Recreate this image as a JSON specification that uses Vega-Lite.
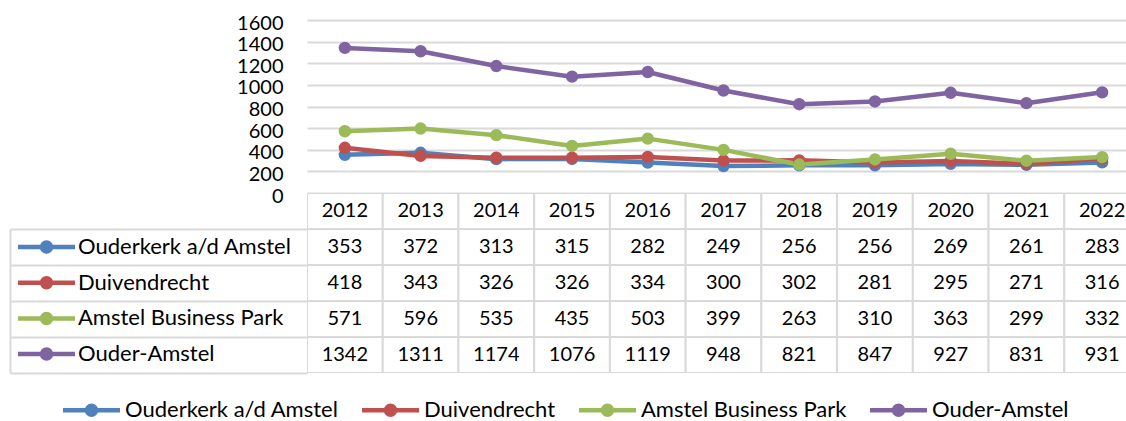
{
  "$schema": "https://vega.github.io/schema/vega-lite/v6.json",
  "padding": {"left": 9, "top": 13, "right": 0, "bottom": 0},
  "bounds": "flush",
  "spacing": 0,
  "background": "white",
  "config": {
    "view": {"stroke": null},
    "font": "Lato",
    "axis": {"labelFont": "Lato", "labelFontSize": 20, "labelColor": "#000000"},
    "text": {"font": "Lato", "fontSize": 20, "color": "#000000"}
  },
  "datasets": {
    "years": [
      {"year": 2012}, {"year": 2013}, {"year": 2014}, {"year": 2015}, {"year": 2016}, {"year": 2017},
      {"year": 2018}, {"year": 2019}, {"year": 2020}, {"year": 2021}, {"year": 2022}
    ],
    "d": [
      {"series": "Ouderkerk a/d Amstel", "year": 2012, "value": 353},
      {"series": "Ouderkerk a/d Amstel", "year": 2013, "value": 372},
      {"series": "Ouderkerk a/d Amstel", "year": 2014, "value": 313},
      {"series": "Ouderkerk a/d Amstel", "year": 2015, "value": 315},
      {"series": "Ouderkerk a/d Amstel", "year": 2016, "value": 282},
      {"series": "Ouderkerk a/d Amstel", "year": 2017, "value": 249},
      {"series": "Ouderkerk a/d Amstel", "year": 2018, "value": 256},
      {"series": "Ouderkerk a/d Amstel", "year": 2019, "value": 256},
      {"series": "Ouderkerk a/d Amstel", "year": 2020, "value": 269},
      {"series": "Ouderkerk a/d Amstel", "year": 2021, "value": 261},
      {"series": "Ouderkerk a/d Amstel", "year": 2022, "value": 283},
      {"series": "Duivendrecht", "year": 2012, "value": 418},
      {"series": "Duivendrecht", "year": 2013, "value": 343},
      {"series": "Duivendrecht", "year": 2014, "value": 326},
      {"series": "Duivendrecht", "year": 2015, "value": 326},
      {"series": "Duivendrecht", "year": 2016, "value": 334},
      {"series": "Duivendrecht", "year": 2017, "value": 300},
      {"series": "Duivendrecht", "year": 2018, "value": 302},
      {"series": "Duivendrecht", "year": 2019, "value": 281},
      {"series": "Duivendrecht", "year": 2020, "value": 295},
      {"series": "Duivendrecht", "year": 2021, "value": 271},
      {"series": "Duivendrecht", "year": 2022, "value": 316},
      {"series": "Amstel Business Park", "year": 2012, "value": 571},
      {"series": "Amstel Business Park", "year": 2013, "value": 596},
      {"series": "Amstel Business Park", "year": 2014, "value": 535},
      {"series": "Amstel Business Park", "year": 2015, "value": 435},
      {"series": "Amstel Business Park", "year": 2016, "value": 503},
      {"series": "Amstel Business Park", "year": 2017, "value": 399},
      {"series": "Amstel Business Park", "year": 2018, "value": 263},
      {"series": "Amstel Business Park", "year": 2019, "value": 310},
      {"series": "Amstel Business Park", "year": 2020, "value": 363},
      {"series": "Amstel Business Park", "year": 2021, "value": 299},
      {"series": "Amstel Business Park", "year": 2022, "value": 332},
      {"series": "Ouder-Amstel", "year": 2012, "value": 1342},
      {"series": "Ouder-Amstel", "year": 2013, "value": 1311},
      {"series": "Ouder-Amstel", "year": 2014, "value": 1174},
      {"series": "Ouder-Amstel", "year": 2015, "value": 1076},
      {"series": "Ouder-Amstel", "year": 2016, "value": 1119},
      {"series": "Ouder-Amstel", "year": 2017, "value": 948},
      {"series": "Ouder-Amstel", "year": 2018, "value": 821},
      {"series": "Ouder-Amstel", "year": 2019, "value": 847},
      {"series": "Ouder-Amstel", "year": 2020, "value": 927},
      {"series": "Ouder-Amstel", "year": 2021, "value": 831},
      {"series": "Ouder-Amstel", "year": 2022, "value": 931}
    ]
  },
  "vconcat": [
    {
      "width": 819,
      "height": 173,
      "data": {"name": "d"},
      "mark": {"type": "line", "strokeWidth": 4.5, "strokeJoin": "round", "strokeCap": "round", "point": {"filled": true, "size": 154, "opacity": 1}},
      "encoding": {
        "x": {"field": "year", "type": "ordinal", "scale": {"type": "point", "padding": 0.5, "range": [0, 833]}, "axis": null},
        "y": {
          "field": "value", "type": "quantitative",
          "scale": {"domain": [0, 1600], "nice": false, "zero": true},
          "axis": {"values": [0, 200, 400, 600, 800, 1000, 1200, 1400, 1600], "format": "d", "title": null, "domain": false, "ticks": false, "grid": true, "gridColor": "#d9d9d9", "gridWidth": 2, "labelPadding": 24, "labelOffset": 3, "labelAlign": "right", "labelBaseline": "middle"}
        },
        "color": {
          "field": "series", "type": "nominal",
          "scale": {"domain": ["Ouderkerk a/d Amstel", "Duivendrecht", "Amstel Business Park", "Ouder-Amstel"], "range": ["#4f81bd", "#c0504d", "#9bbb59", "#8064a2"]},
          "legend": {
            "orient": "none", "legendX": -245, "legendY": 379, "direction": "horizontal", "title": null,
            "symbolType": "M-2,0H9.4M4.6,0A0.9,0.9,0,1,1,2.8,0A0.9,0.9,0,1,1,4.6,0M4.1,0A0.4,0.4,0,1,1,3.3,0A0.4,0.4,0,1,1,4.1,0",
            "symbolSize": 100, "symbolStrokeWidth": 4.5, "symbolOpacity": 1,
            "labelFont": "Lato", "labelFontSize": 22, "labelColor": "#000000", "labelLimit": 400, "labelOffset": 41,
            "columnPadding": 14, "padding": 0
          }
        }
      }
    },
    {
      "width": 819,
      "height": 36,
      "data": {"name": "years"},
      "layer": [
        {
          "mark": {"type": "rect", "fill": "white", "stroke": "#d9d9d9", "strokeWidth": 2, "clip": true},
          "encoding": {
            "x": {"field": "year", "type": "ordinal", "scale": {"type": "band", "paddingInner": 0, "paddingOuter": 0, "range": [0, 833]}, "axis": null}
          }
        },
        {
          "mark": {"type": "text", "clip": true},
          "encoding": {
            "x": {"field": "year", "type": "ordinal", "scale": {"type": "band", "paddingInner": 0, "paddingOuter": 0, "range": [0, 833]}, "axis": null},
            "text": {"field": "year", "type": "ordinal"}
          }
        }
      ]
    },
    {
      "width": 819,
      "height": 144,
      "data": {"name": "d"},
      "layer": [
        {
          "mark": {"type": "rect", "fill": "white", "stroke": "#d9d9d9", "strokeWidth": 2, "clip": true},
          "encoding": {
            "x": {"field": "year", "type": "ordinal", "scale": {"type": "band", "paddingInner": 0, "paddingOuter": 0, "range": [0, 833]}, "axis": null},
            "y": {
              "field": "series", "type": "nominal",
              "sort": ["Ouderkerk a/d Amstel", "Duivendrecht", "Amstel Business Park", "Ouder-Amstel"],
              "scale": {"type": "band", "paddingInner": 0, "paddingOuter": 0},
              "axis": {"orient": "left", "title": null, "domain": false, "labels": false, "ticks": true, "tickBand": "extent", "tickSize": 297, "tickColor": "#d9d9d9", "tickWidth": 2, "grid": false}
            }
          }
        },
        {
          "mark": {"type": "line", "opacity": 0, "strokeWidth": 4.5},
          "encoding": {
            "x": {"field": "year", "type": "ordinal", "scale": {"type": "band", "paddingInner": 0, "paddingOuter": 0, "range": [0, 833]}, "axis": null},
            "y": {
              "field": "series", "type": "nominal",
              "sort": ["Ouderkerk a/d Amstel", "Duivendrecht", "Amstel Business Park", "Ouder-Amstel"],
              "scale": {"type": "band", "paddingInner": 0, "paddingOuter": 0},
              "axis": {"orient": "left", "offset": 297, "title": null, "domain": true, "domainColor": "#d9d9d9", "domainWidth": 2, "labels": false, "ticks": false, "grid": false}
            },
            "color": {
              "field": "series", "type": "nominal",
              "scale": {"domain": ["Ouderkerk a/d Amstel", "Duivendrecht", "Amstel Business Park", "Ouder-Amstel"], "range": ["#4f81bd", "#c0504d", "#9bbb59", "#8064a2"]},
              "legend": {
                "orient": "none", "legendX": -290, "legendY": 7, "direction": "vertical", "title": null,
                "symbolType": "M-2,0H9.4M4.6,0A0.9,0.9,0,1,1,2.8,0A0.9,0.9,0,1,1,4.6,0M4.1,0A0.4,0.4,0,1,1,3.3,0A0.4,0.4,0,1,1,4.1,0",
                "symbolSize": 100, "symbolStrokeWidth": 4.5, "symbolOpacity": 1,
                "labelFont": "Lato", "labelFontSize": 22, "labelColor": "#000000", "labelLimit": 400, "labelOffset": 39,
                "rowPadding": 7.7, "padding": 0
              }
            }
          }
        },
        {
          "mark": {"type": "text", "clip": true},
          "encoding": {
            "x": {"field": "year", "type": "ordinal", "scale": {"type": "band", "paddingInner": 0, "paddingOuter": 0, "range": [0, 833]}, "axis": null},
            "y": {
              "field": "series", "type": "nominal",
              "sort": ["Ouderkerk a/d Amstel", "Duivendrecht", "Amstel Business Park", "Ouder-Amstel"],
              "scale": {"type": "band", "paddingInner": 0, "paddingOuter": 0},
              "axis": null
            },
            "text": {"field": "value", "type": "quantitative", "format": "d"}
          }
        }
      ],
      "resolve": {"axis": {"y": "independent"}}
    }
  ],
  "resolve": {"scale": {"color": "independent"}}
}
